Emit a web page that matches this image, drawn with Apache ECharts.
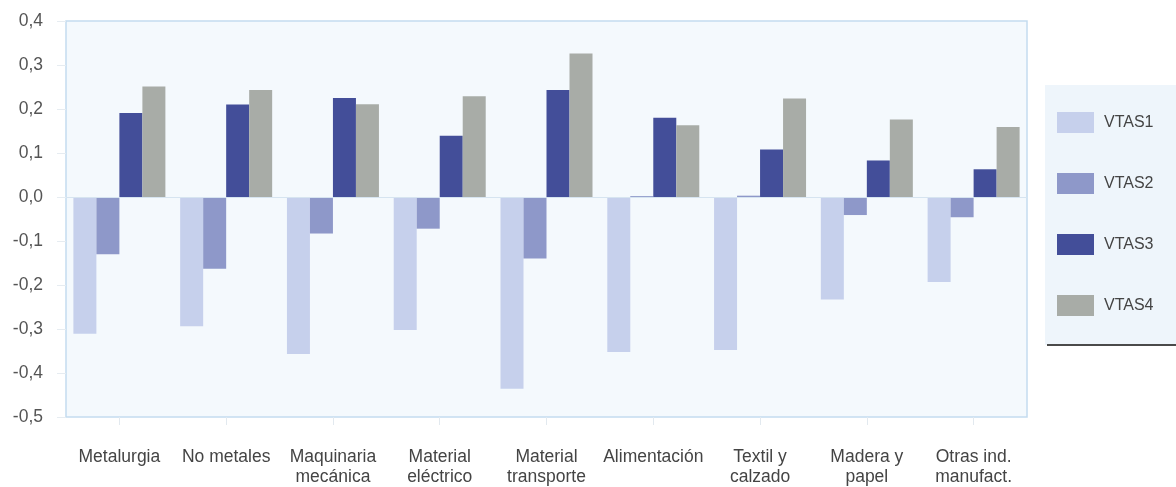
<!DOCTYPE html>
<html>
<head>
<meta charset="utf-8">
<script src="https://cdn.jsdelivr.net/npm/echarts@6/dist/echarts.min.js"></script>
<style>
  html, body { margin: 0; padding: 0; background: #ffffff; }
  #chart { width: 1176px; height: 487px; }
</style>
</head>
<body>
<div id="chart"></div>
<script>
// Sector categories (two-line labels)
const categories = [
  'Metalurgia', 'No metales', 'Maquinaria\nmecánica', 'Material\neléctrico',
  'Material\ntransporte', 'Alimentación', 'Textil y\ncalzado', 'Madera y\npapel',
  'Otras ind.\nmanufact.'
];
const seriesNames = ['VTAS1', 'VTAS2', 'VTAS3', 'VTAS4'];
const vtas1 = [-0.311, -0.294, -0.357, -0.302, -0.436, -0.352, -0.348, -0.233, -0.193];
const vtas2 = [-0.130, -0.163, -0.083, -0.072, -0.140, 0.002, 0.003, -0.041, -0.046];
const vtas3 = [0.191, 0.210, 0.225, 0.139, 0.243, 0.180, 0.108, 0.083, 0.063];
const vtas4 = [0.251, 0.243, 0.211, 0.229, 0.326, 0.163, 0.224, 0.176, 0.159];
const yTicks = ['-0,5', '-0,4', '-0,3', '-0,2', '-0,1', '0,0', '0,1', '0,2', '0,3', '0,4'];

const colors = ['#c6d0ec', '#8e98c9', '#434e99', '#a8aca7'];
const values = [vtas1, vtas2, vtas3, vtas4];
const font = 'Liberation Sans, Arial, sans-serif';

const chart = echarts.init(document.getElementById('chart'), null, { renderer: 'canvas' });

chart.setOption({
  animation: false,
  backgroundColor: '#ffffff',
  graphic: [
    { type: 'rect', z: -10, shape: { x: 1045, y: 85, width: 131, height: 260 },
      style: { fill: '#eef5fb' } },
    { type: 'line', z: 10, shape: { x1: 1047, y1: 345, x2: 1176, y2: 345 },
      style: { stroke: '#4a4a4a', lineWidth: 2 } }
  ],
  legend: {
    orient: 'vertical',
    left: 1052,
    top: 107,
    itemWidth: 37,
    itemHeight: 21,
    itemGap: 40,
    icon: 'rect',
    data: seriesNames,
    textStyle: { fontFamily: font, fontSize: 16, color: '#444', padding: [0, 0, 0, 5] }
  },
  grid: {
    left: 66, right: 149, top: 21, bottom: 70,
    containLabel: false,
    outerBoundsMode: 'none',
    show: true,
    backgroundColor: '#f4f9fd',
    borderColor: '#c4dbef',
    borderWidth: 1.5
  },
  xAxis: {
    type: 'category',
    data: categories,
    axisLine: { onZero: false, show: false },
    axisTick: { show: true, alignWithLabel: true, length: 8, lineStyle: { color: '#e2e9ef' } },
    axisLabel: { fontFamily: font, fontSize: 17.5, color: '#444', lineHeight: 20, margin: 30, interval: 0 }
  },
  yAxis: {
    type: 'value',
    min: -0.5, max: 0.4, interval: 0.1,
    axisLine: { show: false },
    axisTick: { show: true, length: 9, lineStyle: { color: '#e6ecf1' } },
    splitLine: { show: false },
    axisLabel: {
      fontFamily: font, fontSize: 17.5, color: '#555', margin: 23,
      formatter: function (v) {
        const i = Math.round((v + 0.5) * 10);
        return yTicks[i] !== undefined ? yTicks[i] : '';
      }
    }
  },
  series: seriesNames.map(function (name, k) {
    const s = {
      name: name,
      type: 'bar',
      data: values[k],
      barWidth: 23,
      barGap: '0%',
      itemStyle: { color: colors[k] }
    };
    if (k === 0) {
      s.markLine = {
        silent: true, symbol: 'none', label: { show: false },
        lineStyle: { color: '#d6e4f0', type: 'solid', width: 1 },
        data: [{ yAxis: 0 }]
      };
    }
    return s;
  })
});
</script>
</body>
</html>
